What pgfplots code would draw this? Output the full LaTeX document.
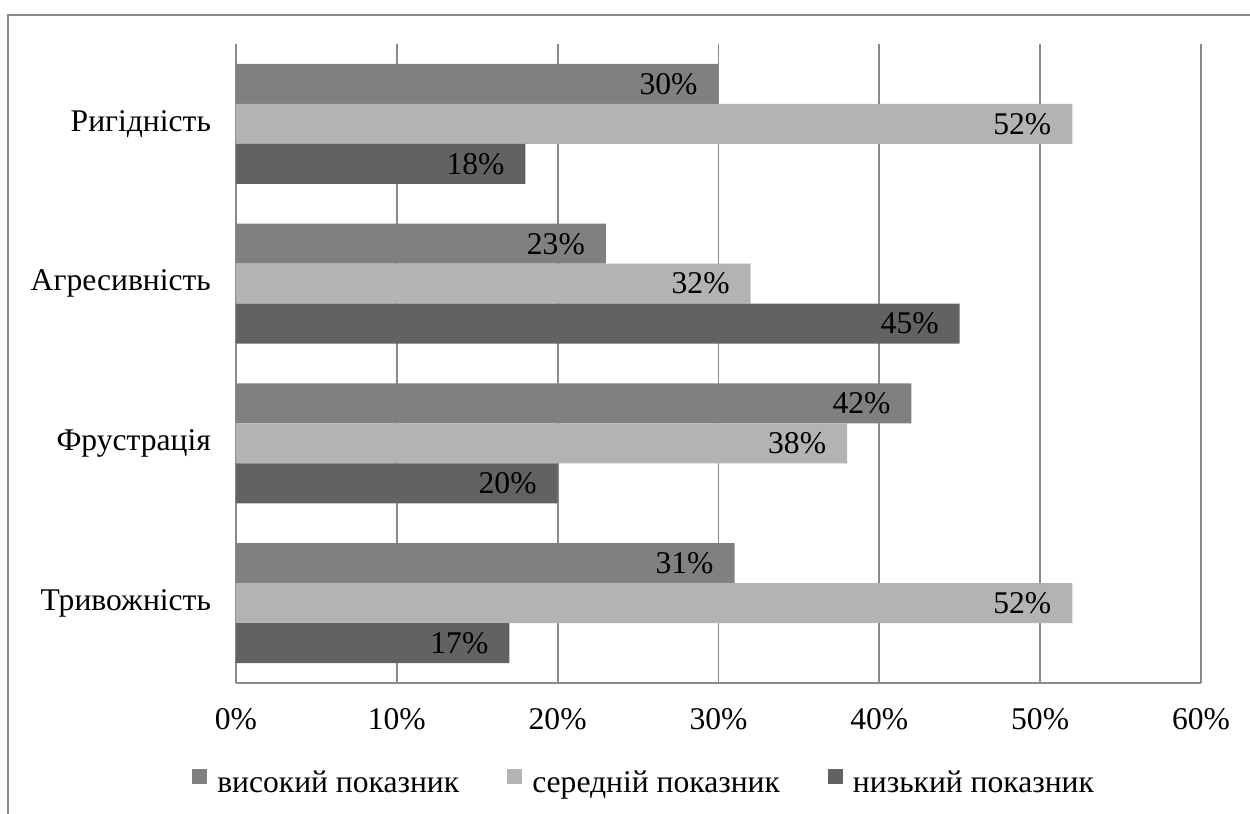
\documentclass[border=0pt]{standalone}
\usepackage{pgfplots}
\pgfplotsset{compat=1.18}
\usepackage{fontspec}
\setmainfont{Liberation Serif}
\definecolor{hi}{HTML}{808080}
\definecolor{mid}{HTML}{B3B3B3}
\definecolor{lo}{HTML}{626262}
\definecolor{gridc}{HTML}{8A8A8A}
\newcommand{\cf}{\fontsize{15.8}{18}\selectfont}
\begin{document}
\begin{tikzpicture}[x=1pt,y=1pt]
\useasboundingbox (0,0) rectangle (625,-407);
\draw[gridc, line width=0.9pt] (4,-420) -- (4,-7.5) -- (640,-7.5);
\begin{axis}[
  at={(118pt,-341.5pt)}, anchor=south west,
  scale only axis, width=482.5pt, height=319.5pt,
  xbar, bar width=0.25,
  xmin=0, xmax=60, ymin=-0.5, ymax=3.5,
  /pgf/number format/assume math mode=true,
  ytick={0,1,2,3},
  yticklabels={Тривожність,Фрустрація,Агресивність,Ригідність},
  xtick={0,10,...,60},
  xticklabel={\pgfmathprintnumber{\tick}\%},
  axis x line=bottom, axis y line=left,
  axis line style={gridc, line width=0.9pt, -},
  major tick length=0pt,
  xmajorgrids, grid style={gridc, line width=0.9pt},
  tick label style={font=\cf},
  xticklabel style={yshift=-9pt},
  yticklabel style={xshift=-9pt},
  nodes near coords={\pgfmathprintnumber{\pgfplotspointmeta}\%},
  every node near coord/.append style={anchor=east, xshift=-7pt, font=\cf, text=black},
  legend columns=3,
  legend style={at={(0.424,-0.1565)}, anchor=center, draw=none, font=\cf,
    /tikz/every odd column/.append style={column sep=3pt},
    /tikz/every even column/.append style={column sep=22pt}},
  legend image code/.code={\fill[#1] (0pt,-0.5pt) rectangle (7.5pt,7pt);},
  clip=false,
]
\addplot[fill=hi, draw=none, bar shift=0.25] coordinates {(31,0) (42,1) (23,2) (30,3)};
\addplot[fill=mid, draw=none, bar shift=0] coordinates {(52,0) (38,1) (32,2) (52,3)};
\addplot[fill=lo, draw=none, bar shift=-0.25] coordinates {(17,0) (20,1) (45,2) (18,3)};
\legend{високий показник, середній показник, низький показник}
\end{axis}
\end{tikzpicture}
\end{document}
